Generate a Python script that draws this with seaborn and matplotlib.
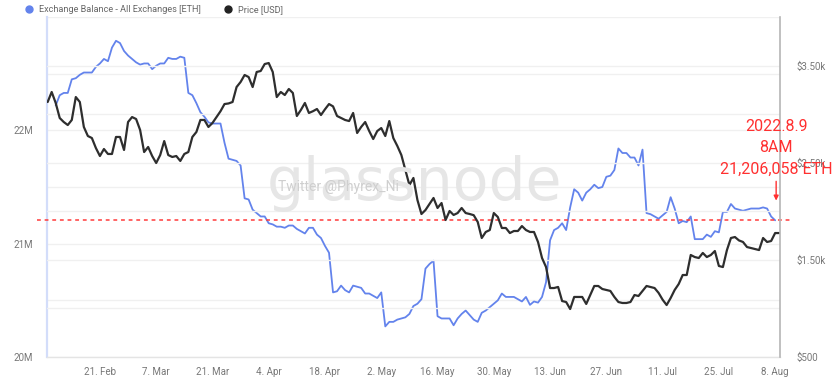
import numpy as np
import pandas as pd
import matplotlib
matplotlib.use("Agg")
import matplotlib.pyplot as plt
import matplotlib.dates as mdates
from matplotlib.ticker import FixedLocator
from matplotlib.lines import Line2D
import seaborn as sns

# ---------------- data ----------------
balance_start = "2022-02-10"
balance_m = [
    22.22, 22.31, 22.33, 22.33, 22.45, 22.46, 22.49, 22.51, 22.51, 22.51,
    22.56, 22.59, 22.63, 22.61, 22.73, 22.79, 22.77, 22.70, 22.66, 22.63,
    22.60, 22.58, 22.59, 22.59, 22.54, 22.57, 22.59, 22.59, 22.64, 22.63,
    22.63, 22.65, 22.64, 22.33, 22.31, 22.24, 22.16, 22.12, 22.07, 22.06,
    22.06, 22.06, 21.89, 21.75, 21.74, 21.73, 21.69, 21.40, 21.39, 21.30,
    21.27, 21.24, 21.24, 21.18, 21.17, 21.15, 21.15, 21.14, 21.16, 21.16,
    21.13, 21.11, 21.09, 21.14, 21.14, 21.08, 21.05, 20.98, 20.92, 20.57,
    20.58, 20.63, 20.59, 20.57, 20.63, 20.62, 20.61, 20.56, 20.56, 20.54,
    20.52, 20.57, 20.27, 20.31, 20.31, 20.33, 20.34, 20.35, 20.38, 20.45,
    20.47, 20.51, 20.78, 20.82, 20.85, 20.36, 20.34, 20.34, 20.34, 20.28,
    20.34, 20.38, 20.41, 20.37, 20.33, 20.31, 20.39, 20.41, 20.44, 20.47,
    20.50, 20.56, 20.53, 20.53, 20.53, 20.51, 20.49, 20.53, 20.46, 20.49,
    20.48, 20.53, 20.66, 21.03, 21.12, 21.14, 21.18, 21.12, 21.32, 21.48,
    21.45, 21.38, 21.45, 21.48, 21.52, 21.49, 21.50, 21.59, 21.60, 21.65,
    21.84, 21.80, 21.80, 21.76, 21.76, 21.69, 21.83, 21.27, 21.26, 21.24,
    21.22, 21.25, 21.28, 21.41, 21.31, 21.18, 21.20, 21.19, 21.24, 21.04,
    21.04, 21.04, 21.08, 21.06, 21.11, 21.10, 21.28, 21.28, 21.35, 21.31,
    21.30, 21.29, 21.30, 21.31, 21.31, 21.31, 21.32, 21.31, 21.24, 21.206058,
]

price_start = "2022-02-08"
price_usd = [
    3125, 3228, 3115, 2960, 2919, 2888, 2940, 3176, 3125, 2868,
    2775, 2754, 2651, 2569, 2641, 2590, 2590, 2765, 2765, 2631,
    2919, 2970, 2950, 2837, 2610, 2662, 2569, 2497, 2579, 2723,
    2579, 2559, 2569, 2518, 2590, 2610, 2765, 2816, 2940, 2940,
    2868, 2909, 2970, 3030, 3104, 3110, 3125, 3279, 3331, 3403,
    3382, 3279, 3434, 3444, 3516, 3526, 3434, 3176, 3228, 3197,
    3259, 3218, 2981, 3043, 3115, 3012, 3030, 3053, 2991, 3050,
    3104, 3080, 2981, 2960, 2940, 2929, 3012, 2806, 2868, 2919,
    2826, 2744, 2826, 2857, 2775, 2929, 2754, 2672, 2579, 2425,
    2270, 2343, 2116, 1972, 2013, 2075, 2137, 2034, 2085, 1910,
    2003, 1962, 1982, 2034, 1982, 1972, 1960, 1890, 1725, 1787,
    1807, 1982, 1941, 1828, 1828, 1776, 1797, 1797, 1848, 1807,
    1787, 1787, 1684, 1519, 1426, 1210, 1210, 1221, 1076, 1066,
    994, 1118, 1118, 1118, 1046, 1138, 1231, 1231, 1200, 1190,
    1180, 1118, 1066, 1056, 1056, 1066, 1138, 1128, 1180, 1231,
    1221, 1210, 1160, 1090, 1035, 1107, 1190, 1251, 1344, 1344,
    1550, 1529, 1519, 1571, 1529, 1550, 1591, 1437, 1426, 1600,
    1725, 1735, 1700, 1684, 1632, 1622, 1612, 1601, 1725, 1684,
    1694, 1776, 1776,
]

x_tick_dates = ["2022-02-21", "2022-03-07", "2022-03-21", "2022-04-04",
                "2022-04-18", "2022-05-02", "2022-05-16", "2022-05-30",
                "2022-06-13", "2022-06-27", "2022-07-11", "2022-07-25",
                "2022-08-08"]
left_ticks = [20e6, 21e6, 22e6]
left_tick_labels = ["20M", "21M", "22M"]
left_minor = [20.5e6, 21.5e6, 22.5e6]
right_ticks = [500, 1500, 2500, 3500]
right_tick_labels = ["$500", "$1.50k", "$2.50k", "$3.50k"]
right_minor = [1000, 2000, 3000]
annot_value = 21206058
annot_text = "2022.8.9\n8AM\n21,206,058 ETH"
series_names = ["Exchange Balance - All Exchanges [ETH]", "Price [USD]"]

# ---------------- style ----------------
sns.set_theme(style="white")
plt.rcParams['font.family'] = ['Roboto', 'DejaVu Sans']

BLUE = "#6383ec"
DARK = "#2e2e2e"
TXT = "#777777"
GRID = "#f0f0f0"

bal = pd.DataFrame({
    "date": pd.date_range(balance_start, periods=len(balance_m), freq="D"),
    "balance": np.array(balance_m) * 1e6,
})
prc = pd.DataFrame({
    "date": pd.date_range(price_start, periods=len(price_usd), freq="D"),
    "price": price_usd,
})

W, H = 833, 383
fig = plt.figure(figsize=(W / 100, H / 100), dpi=100)
fig.patch.set_facecolor("white")
ax = fig.add_axes([47 / W, 26 / H, 733 / W, 340 / H])
ax2 = ax.twinx()

sns.lineplot(data=bal, x="date", y="balance", ax=ax, color=BLUE, linewidth=1.3)
sns.lineplot(data=prc, x="date", y="price", ax=ax2, color=DARK, linewidth=1.6)

ax.set_xlim(pd.Timestamp("2022-02-07 20:00"), pd.Timestamp("2022-08-09 05:00"))
ax.set_ylim(20e6, 23e6)
ax2.set_ylim(500, 4000)

# grid lines (left axis every 0.5M, right axis every $500)
for v in left_ticks + left_minor + [23e6]:
    ax.axhline(v, color=GRID, lw=1, zorder=0)
for v in right_minor + right_ticks[1:]:
    ax2.axhline(v, color=GRID, lw=1, zorder=0)

ax.yaxis.set_major_locator(FixedLocator(left_ticks))
ax.set_yticklabels(left_tick_labels)
ax2.yaxis.set_major_locator(FixedLocator(right_ticks))
ax2.set_yticklabels(right_tick_labels)

xt = pd.to_datetime(x_tick_dates)
ax.set_xticks(xt)
ax.xaxis.set_major_formatter(mdates.DateFormatter("%-d. %b"))

ax.tick_params(axis="x", length=4, width=0.8, color="#e0e0e0", labelsize=7,
               labelcolor=TXT, pad=3)
ax.tick_params(axis="y", length=0, labelsize=7, labelcolor=TXT, pad=10)
ax2.tick_params(axis="y", length=0, labelsize=7, labelcolor=TXT, pad=12)

for a in (ax, ax2):
    a.set_xlabel("")
    a.set_ylabel("")
    for s in a.spines.values():
        s.set_visible(False)
ax.spines["left"].set_visible(True)
ax.spines["left"].set_color("#d3ddfa")
ax.spines["left"].set_linewidth(1.6)
ax.spines["bottom"].set_visible(True)
ax.spines["bottom"].set_color("#e4e4e4")
ax.spines["bottom"].set_linewidth(1.0)
ax2.spines["right"].set_visible(True)
ax2.spines["right"].set_color("#b5b5b5")
ax2.spines["right"].set_linewidth(1.2)

# watermark
fig.text(415 / W, 1 - 183 / H, "glassnode", fontsize=42, color="#e6e6e6",
         ha="center", va="center", family=["DejaVu Sans"], zorder=0)
fig.text(338 / W, 1 - 187 / H, "Twitter @Phyrex_Ni", fontsize=10,
         color="#cfcfcf", ha="center", va="center", zorder=0)

# red dashed reference line
ax.plot([-0.014, 0.018 + 1.0], [annot_value, annot_value],
        transform=ax.get_yaxis_transform(), color="#ff3b3b", lw=1.1,
        ls=(0, (2.5, 2.5)), clip_on=False, zorder=5)

# annotation
fig.text(776 / W, 1 - 148 / H, annot_text, color="#ff3030", fontsize=11.5,
         ha="center", va="center", linespacing=1.55, family=["Roboto"],
         zorder=10)
ax.annotate("", xy=(pd.Timestamp("2022-08-08 06:00"), 21.38e6),
            xytext=(pd.Timestamp("2022-08-08 06:00"), 21.55e6),
            arrowprops=dict(arrowstyle="-|>", color="#ff3030", lw=1.0,
                            mutation_scale=7, shrinkA=0, shrinkB=0),
            annotation_clip=False)

# legend
handles = [Line2D([], [], marker="o", ls="", color=BLUE, markersize=5),
           Line2D([], [], marker="o", ls="", color="#222222", markersize=5)]
fig.legend(handles, series_names, loc="center left",
           bbox_to_anchor=(20 / W, 1 - 10 / H), ncol=2, frameon=False,
           fontsize=6.6, labelcolor="#666666", handletextpad=0.1,
           columnspacing=1.9, borderaxespad=0, borderpad=0)

fig.savefig("out.png", dpi=100, facecolor="white")
